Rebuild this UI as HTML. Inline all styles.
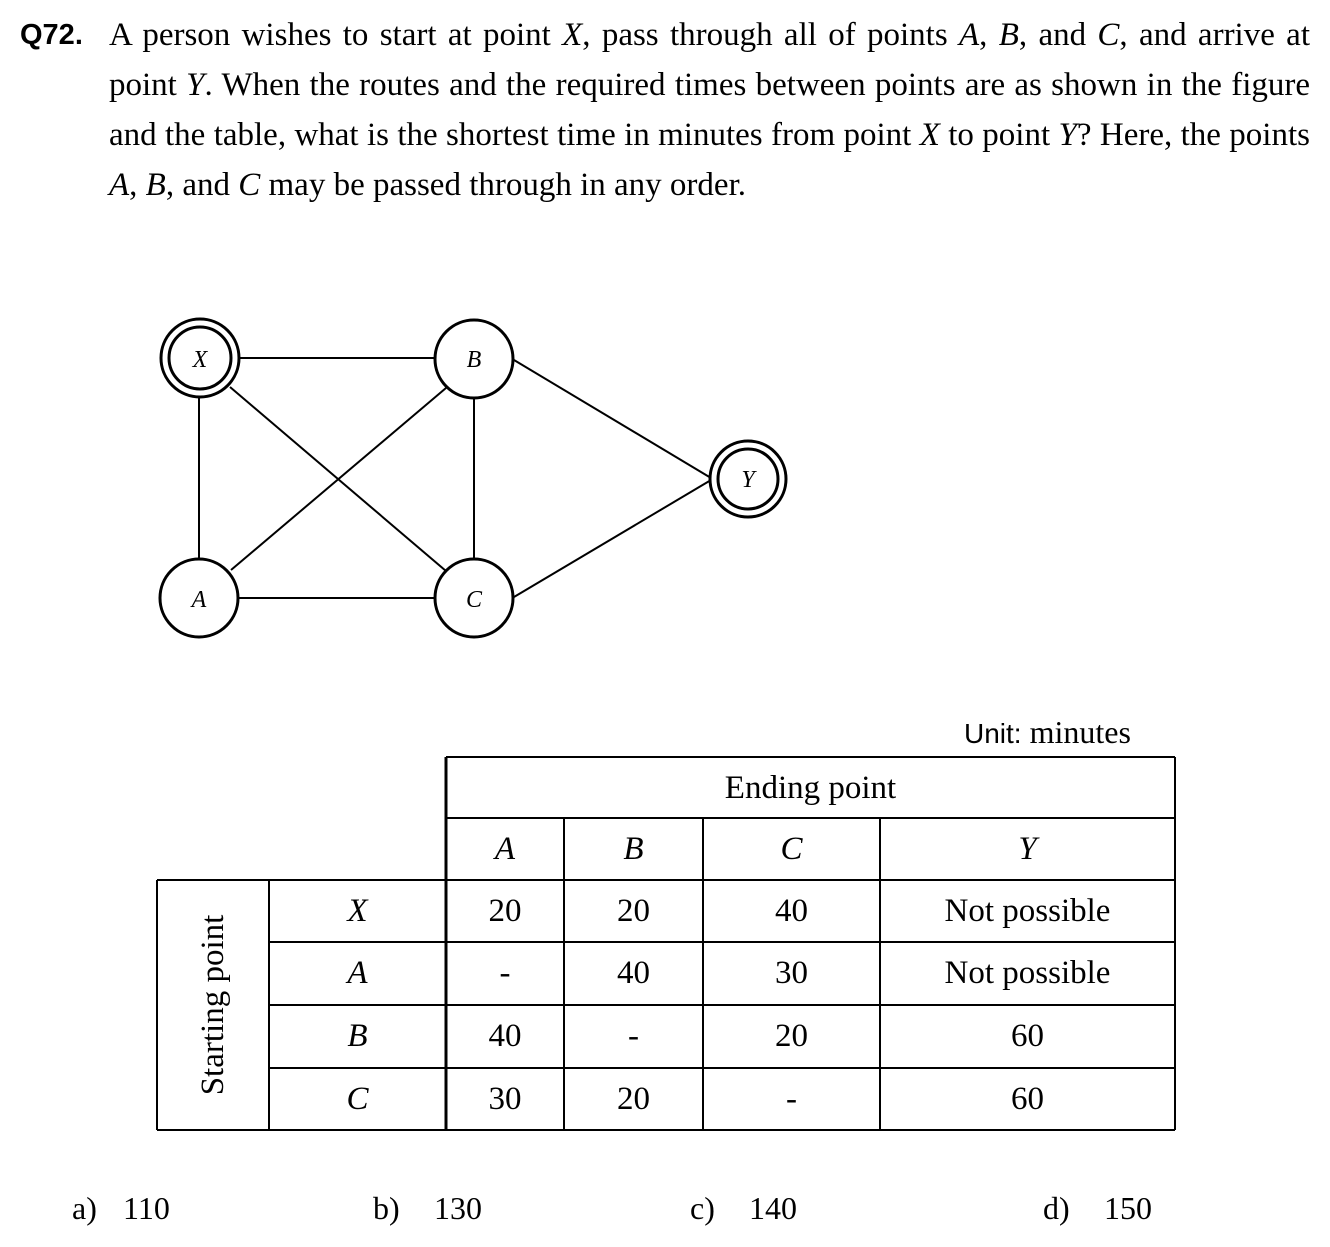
<!DOCTYPE html>
<html><head><meta charset="utf-8"><style>
body{margin:0;background:#fff;width:1330px;height:1247px;position:relative;overflow:hidden;font-family:"Liberation Serif",serif;color:#000}
.q{position:absolute;left:109px;top:10px;width:1201px;font-size:33px;line-height:50px}
.q div{text-align:justify;text-align-last:justify;white-space:nowrap}
.q div.l{text-align-last:left}
.qn{position:absolute;left:20px;top:10px;font:bold 29px/50px "Liberation Sans",sans-serif}
i{font-style:italic}
.t{position:absolute;font-size:33px;text-align:center;line-height:62px}
.a{position:absolute;top:1190px;font-size:32px}
</style></head><body>
<div class="qn">Q72.</div>
<div class="q">
<div>A person wishes to start at point <i>X</i>, pass through all of points <i>A</i>, <i>B</i>, and <i>C</i>, and arrive at</div>
<div>point <i>Y</i>. When the routes and the required times between points are as shown in the figure</div>
<div>and the table, what is the shortest time in minutes from point <i>X</i> to point <i>Y</i>? Here, the points</div>
<div class="l"><i>A</i>, <i>B</i>, and <i>C</i> may be passed through in any order.</div>
</div>
<svg width="1330" height="1247" style="position:absolute;left:0;top:0" font-family="Liberation Serif" font-style="italic" font-size="24">
<g stroke="#000" stroke-width="2" fill="none">
<line x1="238" y1="358" x2="435" y2="358"/>
<line x1="199" y1="397" x2="199" y2="559"/>
<line x1="230" y1="387" x2="446" y2="571"/>
<line x1="231" y1="570" x2="446" y2="388"/>
<line x1="474" y1="398" x2="474" y2="560"/>
<line x1="238" y1="598" x2="435" y2="598"/>
<line x1="514" y1="360" x2="711" y2="478"/>
<line x1="514" y1="597" x2="711" y2="480"/>
<g stroke-width="3">
<circle cx="200" cy="358" r="39"/><circle cx="200" cy="358" r="31"/>
<circle cx="474" cy="359" r="39"/>
<circle cx="748" cy="479" r="38"/><circle cx="748" cy="479" r="30"/>
<circle cx="199" cy="598" r="39"/>
<circle cx="474" cy="598" r="39"/>
</g>
</g>
<g text-anchor="middle">
<text x="200" y="367">X</text><text x="474" y="367">B</text><text x="748" y="487">Y</text><text x="199" y="607">A</text><text x="474" y="607">C</text>
</g>
<g stroke="#000" stroke-width="2">
<line x1="446" y1="757" x2="1175" y2="757"/>
<line x1="446" y1="818" x2="1175" y2="818"/>
<line x1="157" y1="880" x2="1175" y2="880"/>
<line x1="269" y1="942" x2="1175" y2="942"/>
<line x1="269" y1="1005" x2="1175" y2="1005"/>
<line x1="269" y1="1068" x2="1175" y2="1068"/>
<line x1="157" y1="1130" x2="1175" y2="1130"/>
<line x1="157" y1="880" x2="157" y2="1130"/>
<line x1="269" y1="880" x2="269" y2="1130"/>
<line x1="446" y1="757" x2="446" y2="1130" stroke-width="3"/>
<line x1="564" y1="818" x2="564" y2="1130"/>
<line x1="703" y1="818" x2="703" y2="1130"/>
<line x1="880" y1="818" x2="880" y2="1130"/>
<line x1="1175" y1="757" x2="1175" y2="1130"/>
</g>
<text x="0" y="0" font-style="normal" font-size="33" text-anchor="middle" transform="translate(223,1005) rotate(-90)">Starting point</text>
</svg>
<div style="position:absolute;left:964px;top:714px;font-size:32px"><span style="font-family:'Liberation Sans',sans-serif;font-size:28px">Unit:</span> minutes</div>
<div class="t" style="left:446px;top:757px;width:729px">Ending point</div>
<div class="t" style="left:446px;top:818px;width:118px"><i>A</i></div>
<div class="t" style="left:564px;top:818px;width:139px"><i>B</i></div>
<div class="t" style="left:703px;top:818px;width:177px"><i>C</i></div>
<div class="t" style="left:880px;top:818px;width:295px"><i>Y</i></div>

<div class="t" style="left:269px;top:880px;width:177px"><i>X</i></div>
<div class="t" style="left:446px;top:880px;width:118px">20</div>
<div class="t" style="left:564px;top:880px;width:139px">20</div>
<div class="t" style="left:703px;top:880px;width:177px">40</div>
<div class="t" style="left:880px;top:880px;width:295px">Not possible</div>

<div class="t" style="left:269px;top:942px;width:177px"><i>A</i></div>
<div class="t" style="left:446px;top:942px;width:118px">-</div>
<div class="t" style="left:564px;top:942px;width:139px">40</div>
<div class="t" style="left:703px;top:942px;width:177px">30</div>
<div class="t" style="left:880px;top:942px;width:295px">Not possible</div>

<div class="t" style="left:269px;top:1005px;width:177px"><i>B</i></div>
<div class="t" style="left:446px;top:1005px;width:118px">40</div>
<div class="t" style="left:564px;top:1005px;width:139px">-</div>
<div class="t" style="left:703px;top:1005px;width:177px">20</div>
<div class="t" style="left:880px;top:1005px;width:295px">60</div>

<div class="t" style="left:269px;top:1068px;width:177px"><i>C</i></div>
<div class="t" style="left:446px;top:1068px;width:118px">30</div>
<div class="t" style="left:564px;top:1068px;width:139px">20</div>
<div class="t" style="left:703px;top:1068px;width:177px">-</div>
<div class="t" style="left:880px;top:1068px;width:295px">60</div>

<div class="a" style="left:72px">a)</div><div class="a" style="left:123px">110</div>
<div class="a" style="left:373px">b)</div><div class="a" style="left:434px">130</div>
<div class="a" style="left:690px">c)</div><div class="a" style="left:749px">140</div>
<div class="a" style="left:1043px">d)</div><div class="a" style="left:1104px">150</div>
</body></html>
